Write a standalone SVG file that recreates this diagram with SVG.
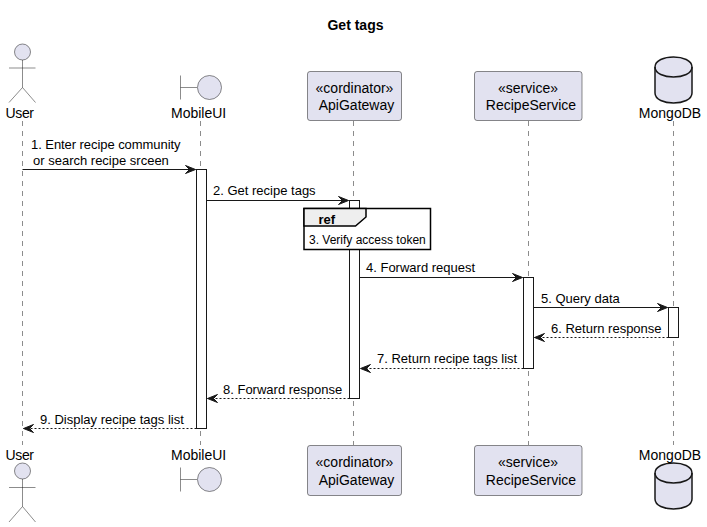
<svg xmlns="http://www.w3.org/2000/svg" width="707" height="527" viewBox="0 0 707 527">
<style>
text{font-family:"Liberation Sans",Arial,sans-serif;fill:#000}
.t{font-size:14px}.m{font-size:13px}.s{font-size:12px}
.life{stroke:#181818;stroke-width:.5;stroke-dasharray:5 5;fill:none}
.shape{fill:#E2E2F0;stroke:#181818;stroke-width:.5}
.line{fill:none;stroke:#181818;stroke-width:.5}
.cyl{fill:#E2E2F0;stroke:#181818;stroke-width:1.5}
.act{fill:#fff;stroke:#181818;stroke-width:1}
.msg{stroke:#181818;stroke-width:1;fill:none}
.dash{stroke-dasharray:2 2}
.c{text-anchor:middle}
</style>
<defs>
<marker id="a" markerUnits="userSpaceOnUse" markerWidth="14" markerHeight="12" refX="11" refY="6" orient="auto"><path d="M1,2 L11,6 L1,10 L5,6 Z" fill="#181818" stroke="#181818" stroke-width="1"/></marker>
</defs>
<text class="c" x="355.500" y="30" style="font-weight:bold;font-size:14px">Get tags</text>
<g id="lifelines">
<line class="life" x1="22.500" y1="121" x2="22.500" y2="445"/>
<line class="life" x1="200.500" y1="121" x2="200.500" y2="445"/>
<line class="life" x1="353.500" y1="121" x2="353.500" y2="445"/>
<line class="life" x1="528.500" y1="121" x2="528.500" y2="445"/>
<line class="life" x1="673.500" y1="121" x2="673.500" y2="445"/>
</g>
<g id="activations">
<rect class="act" x="196.500" y="169.500" width="10" height="259"/>
<rect class="act" x="349.500" y="200.500" width="10" height="198"/>
<rect class="act" x="523.500" y="277.500" width="10" height="91"/>
<rect class="act" x="668.500" y="307.500" width="10" height="30"/>
</g>
<g id="connectors">
<line class="msg" x1="22.500" y1="169.500" x2="195.500" y2="169.500" marker-end="url(#a)"/>
<text class="m" x="31" y="149" textLength="149.500">1. Enter recipe community</text>
<text class="m" x="33" y="165">or search recipe srceen</text>
<line class="msg" x1="206.500" y1="200.500" x2="348.500" y2="200.500" marker-end="url(#a)"/>
<text class="m" x="213" y="195">2. Get recipe tags</text>
<line class="msg" x1="359.500" y1="277.500" x2="522.500" y2="277.500" marker-end="url(#a)"/>
<text class="m" x="366" y="272">4. Forward request</text>
<line class="msg" x1="533.500" y1="307.500" x2="667.500" y2="307.500" marker-end="url(#a)"/>
<text class="m" x="541" y="303">5. Query data</text>
<line class="msg dash" x1="668.500" y1="337.500" x2="534.500" y2="337.500" marker-end="url(#a)"/>
<text class="m" x="551" y="333">6. Return response</text>
<line class="msg dash" x1="523.500" y1="368.500" x2="360.500" y2="368.500" marker-end="url(#a)"/>
<text class="m" x="377" y="363">7. Return recipe tags list</text>
<line class="msg dash" x1="349.500" y1="398.500" x2="207.500" y2="398.500" marker-end="url(#a)"/>
<text class="m" x="223" y="394">8. Forward response</text>
<line class="msg dash" x1="196.500" y1="428.500" x2="23.500" y2="428.500" marker-end="url(#a)"/>
<text class="m" x="40" y="424">9. Display recipe tags list</text>
</g>
<g id="ref">
<rect x="304" y="208.500" width="126.500" height="41" fill="#fff" stroke="#000" stroke-width="1.500"/>
<path d="M304,208.500 H366 V217 L355.500,226 H304 Z" fill="#eee" stroke="#000" stroke-width="1.500"/>
<text x="318.500" y="224" style="font-weight:bold;font-size:13px">ref</text>
<text x="309" y="244" class="s">3. Verify access token</text>
</g>
<g id="User">
<circle class="shape" cx="22.500" cy="52" r="8"/>
<path class="line" d="M22.500,60 V87.500 M9,68 H35.500 M22.500,87.500 L9,102.500 M22.500,87.500 L35.500,102.500"/>
<text class="t" x="5.500" y="118" textLength="28.500">User</text>
</g>
<g id="User-bottom">
<text class="t" x="5.500" y="460" textLength="28.500">User</text>
<circle class="shape" cx="22.500" cy="471" r="8"/>
<path class="line" d="M22.500,479 V506.500 M9,487.500 H35.500 M22.500,506.500 L9,522 M22.500,506.500 L35.500,522"/>
</g>
<g id="MobileUI">
<path class="line" d="M180.500,75.500 V99.500 M180.500,87.500 H197"/>
<circle class="shape" cx="209.500" cy="87.500" r="12"/>
<text class="t" x="171" y="118">MobileUI</text>
</g>
<g id="MobileUI-bottom">
<text class="t" x="171" y="460">MobileUI</text>
<path class="line" d="M180.500,467.500 V491.500 M180.500,479.500 H197"/>
<circle class="shape" cx="209.500" cy="479.500" r="12"/>
</g>
<g id="ApiGateway">
<rect class="shape" x="307.500" y="71.500" width="94" height="49" rx="2.500"/>
<text class="t c" x="354.500" y="93">«cordinator»</text>
<text class="t c" x="356.500" y="110">ApiGateway</text>
</g>
<g id="ApiGateway-bottom">
<rect class="shape" x="307.500" y="445.500" width="94" height="50" rx="2.500"/>
<text class="t c" x="354.500" y="467">«cordinator»</text>
<text class="t c" x="356.500" y="485">ApiGateway</text>
</g>
<g id="RecipeService">
<rect class="shape" x="474.500" y="71.500" width="107.500" height="49" rx="2.500"/>
<text class="t c" x="528" y="93">«service»</text>
<text class="t c" x="531" y="110">RecipeService</text>
</g>
<g id="RecipeService-bottom">
<rect class="shape" x="474.500" y="445.500" width="107.500" height="50" rx="2.500"/>
<text class="t c" x="528" y="467">«service»</text>
<text class="t c" x="531" y="485">RecipeService</text>
</g>
<g id="MongoDB">
<path class="cyl" d="M655,67 C655,53.700 692,53.700 692,67 V93 C692,106.300 655,106.300 655,93 Z"/>
<path class="line" style="stroke-width:1.500" d="M655,67 C655,80.300 692,80.300 692,67"/>
<text class="t c" x="670" y="118">MongoDB</text>
</g>
<g id="MongoDB-bottom">
<path class="cyl" d="M655,473 C655,459.700 692,459.700 692,473 V499 C692,512.300 655,512.300 655,499 Z"/>
<path class="line" style="stroke-width:1.500" d="M655,473 C655,486.300 692,486.300 692,473"/>
<text class="t c" x="670" y="460">MongoDB</text>
</g>
</svg>
